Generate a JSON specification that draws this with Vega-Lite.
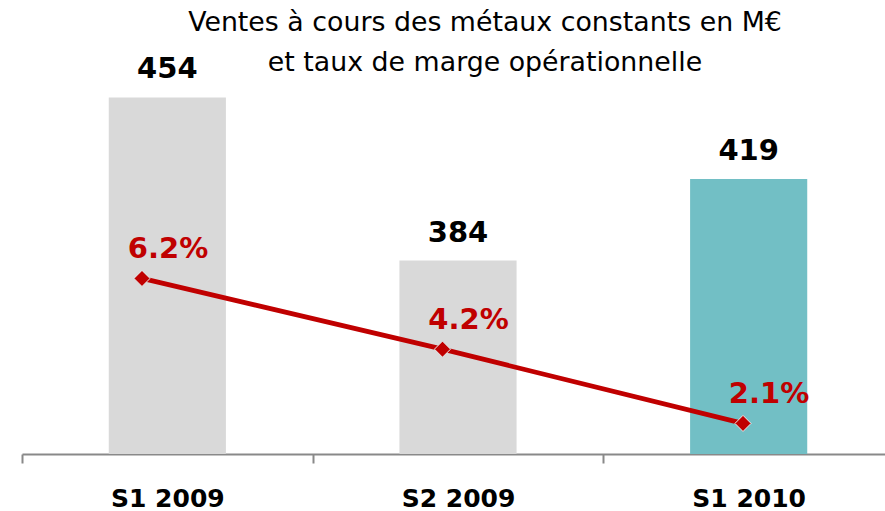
{
  "$schema": "https://vega.github.io/schema/vega-lite/v6.json",
  "width": 872,
  "height": 364,
  "autosize": {"type": "none"},
  "padding": {"left": 22, "top": 90, "right": 0, "bottom": 57},
  "background": "white",
  "config": {"view": {"stroke": null}},
  "title": {
    "text": ["Ventes à cours des métaux constants en M€", "et taux de marge opérationnelle"],
    "font": "DejaVu Sans",
    "fontSize": 26.8,
    "fontWeight": "normal",
    "color": "#000000",
    "lineHeight": 40,
    "anchor": "middle",
    "frame": "group",
    "dx": 27,
    "dy": 61,
    "baseline": "alphabetic",
    "offset": 19
  },
  "data": {
    "values": [
      {"periode": "S1 2009", "ventes": 454, "marge": 0.062},
      {"periode": "S2 2009", "ventes": 384, "marge": 0.042},
      {"periode": "S1 2010", "ventes": 419, "marge": 0.021}
    ]
  },
  "layer": [
    {
      "encoding": {
        "x": {
          "field": "periode",
          "type": "nominal",
          "sort": null,
          "scale": {"type": "band", "paddingInner": 0, "paddingOuter": 0},
          "axis": {
            "title": null,
            "grid": false,
            "domainColor": "#898989",
            "domainWidth": 2,
            "tickColor": "#898989",
            "tickWidth": 2,
            "tickSize": 9,
            "tickBand": "extent",
            "labelFont": "DejaVu Sans",
            "labelFontWeight": "bold",
            "labelFontSize": 25,
            "labelColor": "#000000",
            "labelPadding": 23,
            "labelAngle": 0
          }
        },
        "y": {
          "field": "ventes",
          "type": "quantitative",
          "scale": {"domain": [301, 457.2], "zero": false, "nice": false},
          "axis": null
        }
      },
      "layer": [
        {
          "mark": {"type": "bar", "width": {"band": 0.403}},
          "encoding": {
            "y2": {"datum": 301},
            "color": {
              "field": "periode",
              "type": "nominal",
              "sort": null,
              "scale": {"domain": ["S1 2009", "S2 2009", "S1 2010"], "range": ["#D9D9D9", "#D9D9D9", "#72BFC5"]},
              "legend": null
            }
          }
        },
        {
          "mark": {"type": "text", "font": "DejaVu Sans", "fontWeight": "bold", "fontSize": 29, "baseline": "alphabetic", "dy": -19, "color": "#000000"},
          "encoding": {"text": {"field": "ventes", "type": "quantitative"}}
        }
      ]
    },
    {
      "encoding": {
        "x": {
          "field": "periode",
          "type": "nominal",
          "sort": null,
          "scale": {"type": "point", "padding": 0.4509, "align": 0.4428},
          "axis": null
        },
        "y": {
          "field": "marge",
          "type": "quantitative",
          "scale": {"domain": [0.01235, 0.1153], "zero": false, "nice": false},
          "axis": null
        }
      },
      "layer": [
        {"mark": {"type": "line", "color": "#C00000", "strokeWidth": 4.8}},
        {"mark": {"type": "point", "shape": "diamond", "filled": true, "size": 260, "fill": "#C00000", "stroke": "#E6F2F2", "strokeWidth": 1, "opacity": 1}},
        {
          "mark": {"type": "text", "font": "DejaVu Sans", "fontWeight": "bold", "fontSize": 29, "color": "#C00000", "baseline": "alphabetic", "dx": 26, "dy": -20},
          "encoding": {"text": {"field": "marge", "type": "quantitative", "format": ".1%"}}
        }
      ]
    }
  ],
  "resolve": {"scale": {"x": "independent", "y": "independent", "color": "independent"}}
}
